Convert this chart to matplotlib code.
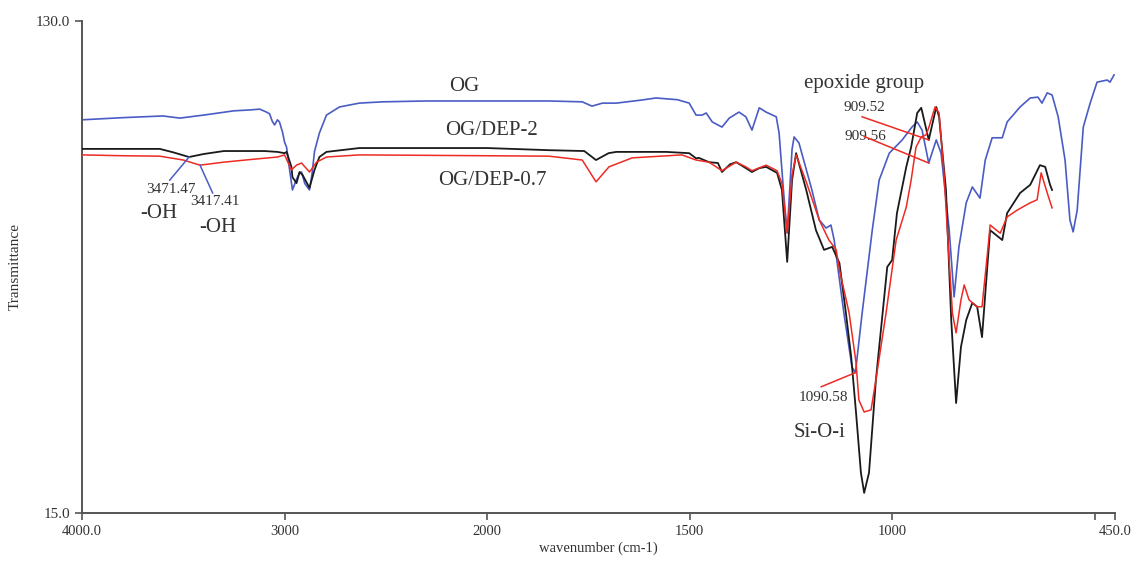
import numpy as np
import matplotlib
matplotlib.use("Agg")
import matplotlib.pyplot as plt

plt.rcParams['font.family'] = ['Liberation Serif', 'DejaVu Serif']

# ---- FTIR spectra (wavenumber in cm-1, transmittance) ----
og_wn = [4000, 3800, 3600, 3517, 3400, 3250, 3172, 3123, 3089, 3074, 3060, 3049, 3035,
         3025, 3010, 3000, 2990, 2975, 2961, 2941, 2926, 2916, 2900, 2877, 2865, 2852,
         2828, 2793, 2729, 2631, 2517, 2300, 2000, 1847, 1765, 1741, 1715, 1681, 1620,
         1583, 1530, 1501, 1484, 1469, 1459, 1444, 1420, 1402, 1385, 1378, 1361, 1346,
         1328, 1311, 1286, 1279, 1267, 1259, 1247, 1242, 1230, 1198, 1180, 1163, 1151,
         1143, 1119, 1099, 1090.58, 1074, 1049, 1032, 1007, 975, 951, 938, 926, 909.56,
         891, 879, 859, 847, 835, 817, 802, 783, 770, 753, 728, 716, 684, 659, 640, 630,
         617, 605, 590, 573, 561, 553, 543, 528, 511, 494, 469, 462, 452]
og_t = [106.9, 107.4, 107.8, 107.3, 108.0, 109.0, 109.2, 109.4, 108.7, 108.3, 106.5, 105.7, 106.9,
        106.4, 104.0, 101.7, 100.5, 95.2, 90.5, 93.0, 94.5, 94.7, 92.0, 90.5, 94.0, 99.5,
        103.8, 108.0, 109.9, 110.8, 111.1, 111.3, 111.3, 111.3, 111.1, 110.1, 110.8, 110.8, 111.5,
        112.0, 111.6, 110.8, 108.0, 108.0, 108.5, 106.4, 105.2, 107.3, 108.3, 108.7, 107.6, 104.5,
        109.7, 108.7, 107.6, 103.8, 88.9, 80.5, 100.0, 102.9, 101.5, 90.5, 83.5, 81.6, 82.3,
        78.8, 61.7, 49.1, 47.8, 61.7, 81.1, 92.8, 99.1, 102.2, 105.2, 106.4, 104.5, 96.8,
        102.2, 99.1, 81.1, 65.5, 77.2, 87.5, 91.2, 88.6, 97.5, 102.7, 102.7, 106.4, 109.9, 112.0, 112.2, 110.8,
        113.2, 112.7, 107.6, 97.5, 83.5, 80.7, 85.8, 105.2, 110.8, 115.7, 116.2, 115.7, 117.4]

dep2_wn = [4000, 3800, 3616, 3550, 3471.47, 3400, 3300, 3222, 3100, 3035, 3000, 2990, 2966,
           2961, 2941, 2926, 2911, 2877, 2852, 2828, 2793, 2631, 2300, 2000, 1847, 1760,
           1731, 1700, 1681, 1558, 1501, 1484, 1477, 1452, 1430, 1420, 1400, 1385, 1361,
           1346, 1328, 1311, 1284, 1272, 1259, 1247, 1237, 1212, 1188, 1168, 1148, 1130,
           1114, 1101, 1089, 1077, 1069, 1057, 1040, 1012, 1000, 988, 965, 953, 938, 928,
           909.52, 891, 884, 867, 854, 842, 830, 817, 802, 790, 778, 765, 758, 728, 716,
           684, 659, 635, 622, 610, 605]
dep2_t = [100.1, 100.1, 100.1, 99.3, 98.2, 98.9, 99.6, 99.6, 99.6, 99.4, 99.1, 99.4, 95.9,
          93.5, 92.1, 94.7, 94.0, 91.0, 95.2, 98.2, 99.4, 100.3, 100.3, 100.3, 99.8, 99.6,
          97.5, 99.1, 99.4, 99.4, 99.1, 97.9, 98.0, 97.0, 96.8, 94.7, 96.5, 97.0, 95.6,
          94.7, 95.6, 95.9, 94.5, 90.5, 73.7, 92.8, 99.1, 90.5, 81.1, 76.5, 77.2, 73.4,
          61.7, 51.5, 38.4, 24.4, 19.7, 24.4, 46.1, 72.5, 74.1, 85.1, 95.9, 100.5, 108.5, 109.7,
          102.2, 109.9, 107.6, 90.5, 60.1, 40.7, 53.8, 60.1, 64.1, 63.2, 56.1, 72.5, 81.1, 78.8, 85.1,
          89.8, 91.7, 96.3, 95.9, 91.7, 90.5]

dep07_wn = [4000, 3800, 3616, 3500, 3417.41, 3300, 3150, 3035, 3000, 2966, 2941, 2916, 2877,
            2842, 2793, 2631, 2000, 1847, 1765, 1731, 1699, 1642, 1519, 1484, 1452, 1420,
            1385, 1361, 1346, 1311, 1284, 1272, 1259, 1247, 1237, 1212, 1180, 1156, 1138,
            1130, 1106, 1089, 1082, 1069, 1052, 1040, 1015, 990, 965, 953, 941, 928, 916,
            909, 894, 884, 872, 859, 851, 842, 830, 822, 810, 790, 778, 763, 758, 733, 716,
            691, 659, 642, 632, 617, 605]
dep07_t = [98.7, 98.5, 98.4, 97.5, 96.3, 97.0, 97.7, 98.2, 98.7, 95.2, 96.3, 96.8, 94.7,
           97.0, 98.2, 98.7, 98.5, 98.4, 97.5, 92.4, 95.9, 98.0, 98.7, 97.5, 97.0, 95.0,
           97.0, 95.9, 95.0, 96.3, 95.0, 92.0, 80.4, 94.0, 98.7, 92.4, 83.5, 78.8, 76.5,
           71.8, 61.7, 50.1, 41.4, 38.6, 39.1, 46.1, 61.7, 78.8, 86.5, 92.8, 100.5, 102.9, 103.4,
           105.2, 109.9, 108.5, 94.5, 73.7, 61.7, 57.1, 64.8, 68.3, 64.8, 63.2, 63.2, 77.2, 82.3, 80.4, 84.2,
           85.8, 87.5, 88.2, 94.5, 89.8, 86.3]

x_ticks = [4000, 3000, 2000, 1500, 1000, 500, 450]
x_tick_labels = ['4000.0', '3000', '2000', '1500', '1000', '', '450.0']
y_ticks = [15, 130]
y_tick_labels = ['15.0', '130.0']

BLUE = '#4a5cc4'
BLACK = '#1a1a1a'
RED = '#ee2a24'


# wavenumber axis is compressed by half above 2000 cm-1
def fwd(w):
    w = np.asarray(w, dtype=float)
    return np.where(w <= 2000, w, 2000 + (w - 2000) * 0.5)


def inv(u):
    u = np.asarray(u, dtype=float)
    return np.where(u <= 2000, u, 2000 + (u - 2000) * 2.0)


fig = plt.figure(figsize=(11.33, 5.61), dpi=100)
ax = fig.add_axes([0.0724, 0.0856, 0.9116, 0.877])
ax.set_xscale('function', functions=(fwd, inv))
ax.set_xlim(4000, 450)
ax.set_ylim(15, 130)

ax.plot(og_wn, og_t, color=BLUE, lw=1.2, zorder=2)
ax.plot(dep2_wn, dep2_t, color=BLACK, lw=1.3, zorder=3)
ax.plot(dep07_wn, dep07_t, color=RED, lw=1.1, zorder=4)

for s in ('top', 'right'):
    ax.spines[s].set_visible(False)
for s in ('left', 'bottom'):
    ax.spines[s].set_color('#555555')
    ax.spines[s].set_linewidth(1.4)

ax.set_xticks(x_ticks)
ax.set_xticklabels(x_tick_labels, fontsize=10.5)
ax.xaxis.set_minor_locator(matplotlib.ticker.NullLocator())
ax.set_yticks(y_ticks)
ax.set_yticklabels(y_tick_labels, fontsize=11)
ax.tick_params(axis='both', direction='out', length=5, width=1.2, color='#555555', labelcolor='#333333')
ax.tick_params(axis='x', pad=4)

ax.set_xlabel('wavenumber (cm-1)', fontsize=10.5, color='#333333', labelpad=2)
ax.set_ylabel('Transmittance', fontsize=11, color='#333333')
ax.yaxis.set_label_coords(-0.058, 0.5)

txt = dict(color='#333333', ha='center', va='center')
ax.text(2113, 114.6, 'OG', fontsize=15, **txt)
ax.text(1990, 104.5, 'OG/DEP-2', fontsize=15, **txt)
ax.text(1988, 92.8, 'OG/DEP-0.7', fontsize=15, **txt)
ax.text(1069, 115.3, 'epoxide group', fontsize=15, **txt)
ax.text(1180, 33.7, 'Si-O-i', fontsize=15, **txt)
ax.text(3621, 85.1, '-OH', fontsize=15, **txt)
ax.text(3330, 81.8, '-OH', fontsize=15, **txt)

# peak labels with leader lines ending on the marked spectrum points
peaks = [
    ('3471.47', dep2_wn, dep2_t, 3562, 90.5, 3567, 92.8, BLUE),
    ('3417.41', dep07_wn, dep07_t, 3345, 87.7, 3355, 89.8, BLUE),
    ('909.52', dep2_wn, dep2_t, 1069, 109.7, 1074, 107.6, RED),
    ('909.56', og_wn, og_t, 1067, 103.1, 1069, 103.0, RED),
    ('1090.58', og_wn, og_t, 1170, 42.1, 1175, 44.5, RED),
]
for label, wn, tt, tx, ty, lx, ly, col in peaks:
    v = float(label)
    i = int(np.argmin(np.abs(np.asarray(wn) - v)))
    ax.text(tx, ty, label, fontsize=11, **txt)
    ax.plot([lx, wn[i]], [ly, tt[i]], color=col, lw=1.1, zorder=5)

fig.savefig('out.png', dpi=100, facecolor='white')
